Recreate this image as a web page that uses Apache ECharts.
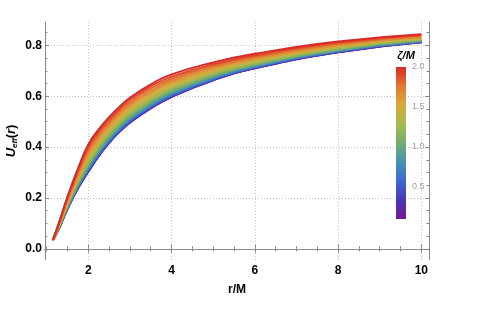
<!DOCTYPE html>
<html>
<head>
<meta charset="utf-8">
<script src="https://cdn.jsdelivr.net/npm/echarts@6/dist/echarts.min.js"></script>
<style>
  html, body { margin: 0; padding: 0; background: #fff; }
  #chart { width: 498px; height: 321px; }
</style>
</head>
<body>
<div id="chart"></div>
<script>
// r/M sample points shared by every curve
var rValues = [1.15, 1.3, 1.5, 1.75, 2, 2.25, 2.5, 2.75, 3, 3.5, 4, 5, 6, 8, 10];
// zeta/M of each curve (colour scale 0.1 .. 2.0)
var zetaValues = [0.1, 0.2, 0.3, 0.4, 0.5, 0.6, 0.7, 0.8, 0.9, 1.0,
                  1.1, 1.2, 1.3, 1.4, 1.5, 1.6, 1.7, 1.8, 1.9, 2.0];

// U_eff(r), one array per zeta
var uZeta01 = [0.034, 0.082, 0.157, 0.237, 0.303, 0.364, 0.417, 0.460, 0.496, 0.552, 0.597, 0.663, 0.710, 0.773, 0.812];
var uZeta02 = [0.034, 0.082, 0.157, 0.238, 0.304, 0.365, 0.418, 0.461, 0.497, 0.553, 0.598, 0.664, 0.710, 0.773, 0.812];
var uZeta03 = [0.034, 0.082, 0.158, 0.239, 0.305, 0.366, 0.419, 0.462, 0.498, 0.554, 0.599, 0.664, 0.711, 0.774, 0.813];
var uZeta04 = [0.034, 0.083, 0.159, 0.240, 0.307, 0.368, 0.421, 0.464, 0.500, 0.556, 0.600, 0.666, 0.712, 0.775, 0.813];
var uZeta05 = [0.034, 0.083, 0.160, 0.242, 0.309, 0.371, 0.423, 0.466, 0.502, 0.558, 0.602, 0.667, 0.713, 0.776, 0.814];
var uZeta06 = [0.034, 0.084, 0.161, 0.244, 0.312, 0.374, 0.426, 0.469, 0.505, 0.560, 0.605, 0.669, 0.715, 0.777, 0.815];
var uZeta07 = [0.034, 0.085, 0.163, 0.246, 0.316, 0.377, 0.429, 0.472, 0.508, 0.564, 0.608, 0.671, 0.717, 0.778, 0.816];
var uZeta08 = [0.034, 0.086, 0.165, 0.249, 0.320, 0.381, 0.433, 0.476, 0.512, 0.567, 0.611, 0.674, 0.719, 0.780, 0.817];
var uZeta09 = [0.034, 0.087, 0.167, 0.253, 0.324, 0.386, 0.437, 0.480, 0.516, 0.571, 0.615, 0.677, 0.721, 0.781, 0.818];
var uZeta10 = [0.034, 0.088, 0.169, 0.256, 0.330, 0.391, 0.442, 0.485, 0.521, 0.576, 0.619, 0.680, 0.724, 0.783, 0.820];
var uZeta11 = [0.034, 0.089, 0.171, 0.260, 0.335, 0.397, 0.447, 0.490, 0.526, 0.581, 0.624, 0.684, 0.727, 0.786, 0.822];
var uZeta12 = [0.034, 0.090, 0.174, 0.265, 0.341, 0.403, 0.453, 0.496, 0.532, 0.586, 0.629, 0.688, 0.730, 0.788, 0.823];
var uZeta13 = [0.034, 0.092, 0.177, 0.270, 0.348, 0.410, 0.460, 0.502, 0.539, 0.592, 0.634, 0.692, 0.734, 0.791, 0.825];
var uZeta14 = [0.034, 0.093, 0.180, 0.275, 0.355, 0.417, 0.466, 0.509, 0.545, 0.599, 0.641, 0.697, 0.738, 0.794, 0.828];
var uZeta15 = [0.034, 0.095, 0.184, 0.281, 0.363, 0.425, 0.474, 0.516, 0.553, 0.606, 0.647, 0.702, 0.742, 0.797, 0.830];
var uZeta16 = [0.034, 0.097, 0.188, 0.287, 0.371, 0.433, 0.482, 0.524, 0.561, 0.613, 0.654, 0.708, 0.746, 0.800, 0.832];
var uZeta17 = [0.034, 0.099, 0.192, 0.293, 0.380, 0.442, 0.490, 0.532, 0.569, 0.621, 0.661, 0.714, 0.751, 0.803, 0.835];
var uZeta18 = [0.034, 0.101, 0.196, 0.300, 0.390, 0.452, 0.499, 0.541, 0.578, 0.630, 0.669, 0.720, 0.756, 0.807, 0.838];
var uZeta19 = [0.034, 0.103, 0.200, 0.307, 0.400, 0.461, 0.508, 0.550, 0.587, 0.639, 0.677, 0.726, 0.761, 0.811, 0.841];
var uZeta20 = [0.034, 0.105, 0.205, 0.315, 0.410, 0.470, 0.518, 0.559, 0.594, 0.647, 0.686, 0.733, 0.767, 0.815, 0.844];

var uCurves = [uZeta01, uZeta02, uZeta03, uZeta04, uZeta05, uZeta06, uZeta07, uZeta08, uZeta09, uZeta10,
               uZeta11, uZeta12, uZeta13, uZeta14, uZeta15, uZeta16, uZeta17, uZeta18, uZeta19, uZeta20];

// tick values
var xMajorTicks = [2, 4, 6, 8, 10];
var xMinorTicks = [1, 1.5, 2, 2.5, 3, 3.5, 4, 4.5, 5, 5.5, 6, 6.5, 7, 7.5, 8, 8.5, 9, 9.5, 10];
var yMajorTicks = [0, 0.2, 0.4, 0.6, 0.8];
var yMinorTicks = [0, 0.05, 0.1, 0.15, 0.2, 0.25, 0.3, 0.35, 0.4, 0.45, 0.5, 0.55, 0.6, 0.65, 0.7, 0.75, 0.8, 0.85];
var barTicks = [0.5, 1.0, 1.5, 2.0];

var chart = echarts.init(document.getElementById('chart'), null, { renderer: 'canvas' });

var FONT = 'Liberation Sans, Arial, sans-serif';
var frameColor = '#8a8a8a';
var rainbow = ['#74198c', '#4a36b8', '#3f67d2', '#4993b0', '#72ad72',
               '#a9b94c', '#d6aa3c', '#e27730', '#d92a25'];
var zMin = zetaValues[0], zMax = zetaValues[zetaValues.length - 1];
function zetaColor(z) {
    return echarts.color.lerp((z - zMin) / (zMax - zMin), rainbow);
}

var xRange = { min: 0.96, max: 10.185 };
var yRange = { min: -0.044, max: 0.892 };

// one frame side: axis line + ticks pointing inward
function frameAxis(range, position, ticks, len, line) {
    return {
        type: 'value', gridIndex: 0, position: position,
        min: range.min, max: range.max,
        axisLine: { show: line, lineStyle: { color: frameColor, width: 1 } },
        axisTick: { show: true, inside: true, length: len, customValues: ticks,
                    lineStyle: { color: frameColor, width: 1 } },
        axisLabel: { show: false },
        splitLine: { show: false }
    };
}

var gridDots = { show: true, lineStyle: { color: '#c4c4c4', width: 1, type: [1, 2] } };

var xAxes = [
    {
        type: 'value', gridIndex: 0, position: 'bottom',
        min: xRange.min, max: xRange.max,
        axisLine: { show: true, lineStyle: { color: frameColor, width: 1 } },
        axisTick: { show: true, inside: true, length: 4, customValues: xMajorTicks,
                    lineStyle: { color: frameColor } },
        axisLabel: { customValues: xMajorTicks, color: '#000', fontWeight: 'bold',
                     fontSize: 12, fontFamily: FONT, margin: 5 },
        splitLine: gridDots,
        name: 'r/M', nameLocation: 'middle', nameGap: 24, nameMoveOverlap: false,
        nameTextStyle: { color: '#000', fontWeight: 'bold', fontSize: 12, fontFamily: FONT }
    },
    frameAxis(xRange, 'bottom', xMinorTicks, 2.5, false),
    frameAxis(xRange, 'top', xMajorTicks, 4, true),
    frameAxis(xRange, 'top', xMinorTicks, 2.5, false),
    { type: 'category', gridIndex: 1, data: ['z'], show: false }
];

var yAxes = [
    {
        type: 'value', gridIndex: 0, position: 'left',
        min: yRange.min, max: yRange.max,
        axisLine: { show: true, lineStyle: { color: frameColor, width: 1 } },
        axisTick: { show: true, inside: true, length: 4, customValues: yMajorTicks,
                    lineStyle: { color: frameColor } },
        axisLabel: { customValues: yMajorTicks, color: '#000', fontWeight: 'bold',
                     fontSize: 12, fontFamily: FONT, margin: 3,
                     formatter: function (v) { return v.toFixed(1); } },
        splitLine: gridDots,
        name: '{u|U}{s|eff}{p|(}{u|r}{p|)}', nameLocation: 'middle', nameGap: 26,
        nameMoveOverlap: false,
        nameTextStyle: {
            rich: {
                u: { fontSize: 13, fontWeight: 'bold', fontStyle: 'italic', fontFamily: FONT,
                     color: '#000', lineHeight: 16 },
                s: { fontSize: 8, fontWeight: 'bold', fontStyle: 'italic', fontFamily: FONT,
                     color: '#000', lineHeight: 10, verticalAlign: 'bottom' },
                p: { fontSize: 13, fontWeight: 'bold', fontFamily: FONT, color: '#000', lineHeight: 16 }
            }
        }
    },
    frameAxis(yRange, 'left', yMinorTicks, 2.5, false),
    frameAxis(yRange, 'right', yMajorTicks, 4, true),
    frameAxis(yRange, 'right', yMinorTicks, 2.5, false),
    {
        // colour bar scale
        type: 'value', gridIndex: 1, position: 'right', min: 0.1, max: 2.0,
        axisLine: { show: false }, axisTick: { show: false }, splitLine: { show: false },
        axisLabel: { customValues: barTicks, color: '#a0a0a0', fontSize: 9, fontFamily: FONT, margin: 6,
                     formatter: function (v) { return v.toFixed(1); } },
        name: 'ζ/M', nameLocation: 'end', nameGap: 6,
        nameTextStyle: { color: '#000', fontWeight: 'bold', fontStyle: 'italic', fontSize: 11,
                         fontFamily: FONT, align: 'center' }
    }
];

var series = uCurves.map(function (u, k) {
    var c = zetaColor(zetaValues[k]);
    return {
        type: 'line', xAxisIndex: 0, yAxisIndex: 0,
        name: 'ζ/M = ' + zetaValues[k].toFixed(1),
        data: rValues.map(function (r, i) { return [r, u[i]]; }),
        showSymbol: false, symbol: 'none',
        smooth: 0.5,
        lineStyle: { width: 2, color: c },
        itemStyle: { color: c },
        silent: true, z: 3
    };
});

// colour bar: transparent base up to zMin, gradient from zMin to zMax
series.push({
    type: 'bar', xAxisIndex: 4, yAxisIndex: 4, stack: 'bar', barWidth: '100%',
    data: [zMin], itemStyle: { color: 'rgba(0,0,0,0)' }, silent: true
});
series.push({
    type: 'bar', xAxisIndex: 4, yAxisIndex: 4, stack: 'bar', barWidth: '100%',
    data: [zMax - zMin], silent: true,
    itemStyle: {
        color: new echarts.graphic.LinearGradient(0, 0, 0, 1,
            rainbow.slice().reverse().map(function (col, i) {
                return { offset: i / (rainbow.length - 1), color: col };
            }))
    }
});

chart.setOption({
    animation: false,
    backgroundColor: '#fff',
    grid: [
        { left: 45, top: 22, width: 384, height: 238, outerBoundsMode: 'none', containLabel: false },
        { left: 396, top: 67, width: 10, height: 152, outerBoundsMode: 'none', containLabel: false }
    ],
    xAxis: xAxes,
    yAxis: yAxes,
    series: series
});
</script>
</body>
</html>
